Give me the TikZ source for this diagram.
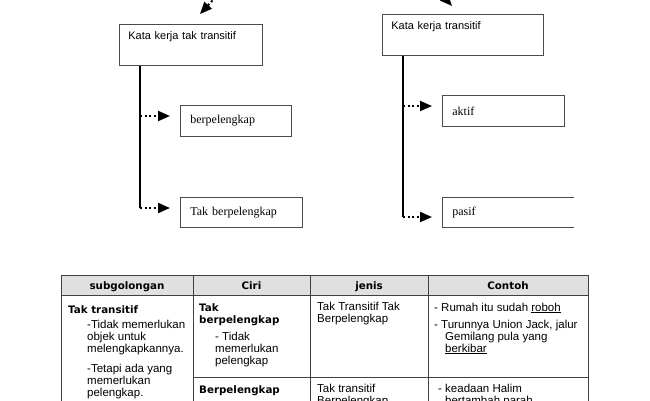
\documentclass[tikz,border=0pt]{standalone}
\usepackage{fontspec}
\setmainfont{Liberation Sans}
\newfontfamily\boxserif{Liberation Serif}
\newfontfamily\tabbold{DejaVu Sans}
\usetikzlibrary{arrows.meta,positioning}

\begin{document}
\begin{tikzpicture}[x=1pt,y=-1pt,
  kotak/.style={rectangle,draw=black!70,line width=0.8pt,anchor=north west,align=left,inner xsep=9pt},
  kotakatas/.style={kotak,inner ysep=7pt,text height=8pt,text depth=19pt,font=\fontsize{11}{13}\selectfont},
  kotakbawah/.style={kotak,inner xsep=10pt,font=\boxserif\fontsize{12}{14}\selectfont},
  batang/.style={line width=2.2pt},
  titikpanah/.style={line width=2pt,dash pattern=on 2pt off 2.6pt,-{Triangle[length=12pt,width=10pt]}},
  garis/.style={line width=0.9pt,draw=black!75},
  sel/.style={anchor=base west,inner sep=0pt,align=left,font=\fontsize{11.5}{12}\selectfont},
  seltebal/.style={sel,font=\tabbold\bfseries\fontsize{10.3}{11.5}\selectfont},
  kepala/.style={anchor=base,inner sep=0pt,font=\tabbold\bfseries\fontsize{10.3}{12}\selectfont}]
\useasboundingbox (0,0) rectangle (650,400);
\clip (0,0) rectangle (650,400);

% Kata kerja tak transitif
\node[kotakatas,minimum width=143pt,text width=125pt] (kkt) at (119,24) {Kata kerja tak transitif};
\node[kotakbawah,minimum width=111pt,minimum height=31pt,text width=91pt] (bp) at (180,105) {berpelengkap};
\node[kotakbawah,minimum width=122pt,minimum height=30pt,text width=102pt] (tbp) at (180,197) {Tak berpelengkap};

\coordinate (kkt1) at (140,116);
\coordinate (kkt2) at (140,208);
\draw[batang] ([xshift=21pt]kkt.south west) -- (kkt2);
\draw[titikpanah,shorten >=10pt] (kkt1) -- (kkt1 -| bp.west);
\draw[titikpanah,shorten >=10pt] (kkt2) -- (kkt2 -| tbp.west);

% Kata kerja transitif
\node[kotakatas,minimum width=161pt,text width=143pt] (kt) at (382,14) {Kata kerja transitif};
\node[kotakbawah,minimum width=122pt,minimum height=31pt,text width=102pt] (ak) at (442,95) {aktif};
\node[kotakbawah,draw=none,minimum width=131pt,minimum height=30pt,text width=111pt] (ps) at (442,197) {pasif};
\draw[draw=black!70,line width=0.8pt] (ps.north east) -- (ps.north west) -- (ps.south west) -- (ps.south east);

\coordinate (kt1) at (403,106);
\coordinate (kt2) at (403,217);
\draw[batang] ([xshift=21pt]kt.south west) -- (kt2);
\draw[titikpanah,shorten >=10pt] (kt1) -- (kt1 -| ak.west);
\draw[titikpanah,shorten >=10pt] (kt2) -- (kt2 -| ps.west);

% panah dari atas
\coordinate (masukkiri) at (225,-13);
\coordinate (masukkanan) at (434,-14);
\draw[titikpanah] (masukkiri) -- ([shift={(81pt,10pt)}]kkt.north west);
\draw[titikpanah] (masukkanan) -- ([shift={(70pt,8pt)}]kt.north west);

% jadual
\fill[black!12] (61,275) rectangle (588,295);
\draw[garis] (61,410) -- (61,275) -- (588,275) -- (588,410);
\draw[garis] (61,295) -- (588,295);
\foreach \x in {193,310,428}
  \draw[garis] (\x,275) -- (\x,410);
\draw[garis] (193,377) -- (588,377);

\node[kepala] (h1) at (127,289) {subgolongan};
\node[kepala] (h2) at (251.5,289) {Ciri};
\node[kepala] (h3) at (369,289) {jenis};
\node[kepala] (h4) at (508,289) {Contoh};

\node[seltebal] (a1) at (68,313) {Tak transitif};
\node[sel] (a2) at (87,352) {-Tidak memerlukan\\objek untuk\\melengkapkannya.};
\node[sel] (a3) at (87,396) {-Tetapi ada yang\\memerlukan\\pelengkap.};

\node[seltebal] (b1) at (199,323) {Tak\\berpelengkap};
\node[sel] (b2) at (215,364) {- Tidak\\memerlukan\\pelengkap};
\node[seltebal] (b3) at (199,393) {Berpelengkap};

\node[sel] (c1) at (317,322) {Tak Transitif Tak\\Berpelengkap};
\node[sel] (c2) at (317,404) {Tak transitif\\Berpelengkap};

\node[sel] (d1) at (434,311) {- Rumah itu sudah \underline{roboh}};
\node[sel] (d2) at (434,328) {- Turunnya Union Jack, jalur};
\node[sel] (d3) at (445,352) {Gemilang pula yang\\\underline{berkibar}};
\node[sel] (d4) at (438,392) {- keadaan Halim};
\node[sel] (d5) at (445,404) {bertambah parah};
\end{tikzpicture}
\end{document}
